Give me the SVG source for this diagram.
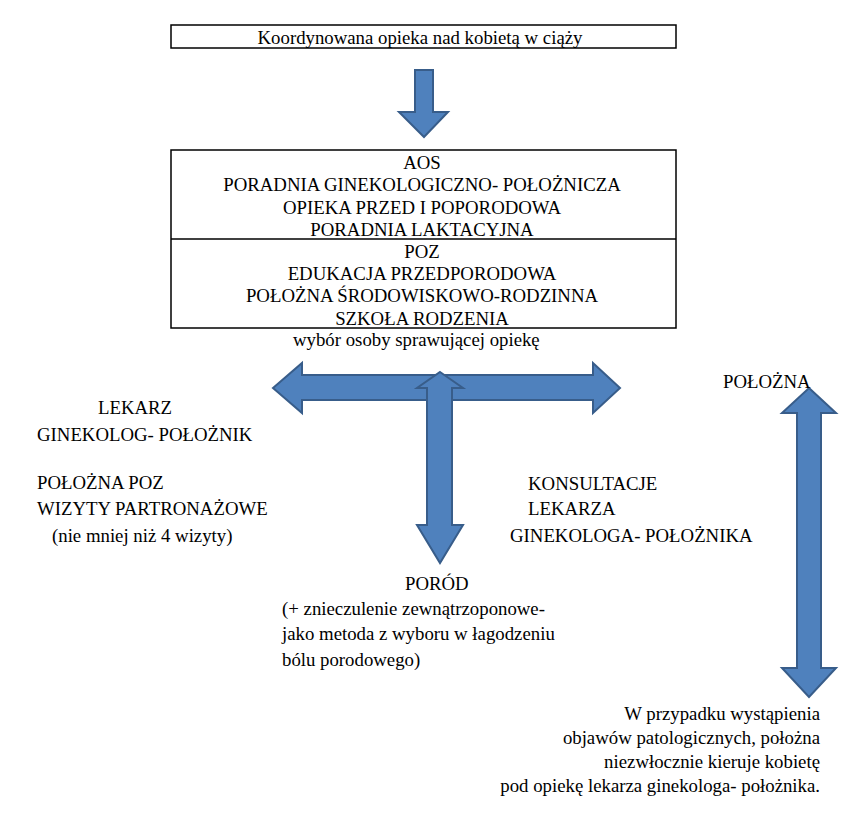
<svg xmlns="http://www.w3.org/2000/svg" width="868" height="816" viewBox="0 0 868 816">
<style>
text{font-family:'Liberation Serif','Times New Roman',serif;font-size:18.8px;fill:#000}
.c{text-anchor:middle}
.r{text-anchor:end}
.box{fill:#fff;stroke:#000;stroke-width:1.5}
.arr{fill:#4F81BD;stroke:#385D8A;stroke-width:2;stroke-linejoin:miter}
</style>
<rect width="868" height="816" fill="#fff"/>
<g id="top">
<rect class="box" x="171" y="25" width="505" height="23"/>
<text class="c" x="420" y="44">Koordynowana opieka nad kobietą w ciąży</text>
</g>
<g id="connectors">
<polygon class="arr" points="415,70 433,70 433,112 448,112 424,137 399,112 415,112"/>
<polygon class="arr" points="273,388 302,363 302,375 593,375 593,363 620,388 593,413 593,400 302,400 302,413"/>
<polygon class="arr" points="440,372 463,388 452,388 452,525 463,525 440,563 417,525 427,525 427,388 417,388"/>
<polygon class="arr" points="809,388 836,413 821,413 821,668 836,668 809,697 782,668 797,668 797,413 782,413"/>
</g>
<g id="services">
<rect class="box" x="171" y="150" width="505" height="178"/>
<line x1="171" y1="239" x2="676" y2="239" stroke="#000" stroke-width="1.5"/>
<text class="c" x="422" y="169">AOS</text>
<text class="c" x="422" y="191">PORADNIA GINEKOLOGICZNO- POŁOŻNICZA</text>
<text class="c" x="422" y="214">OPIEKA PRZED I POPORODOWA</text>
<text class="c" x="422" y="236">PORADNIA LAKTACYJNA</text>
<text class="c" x="422" y="258">POZ</text>
<text class="c" x="422" y="280">EDUKACJA PRZEDPORODOWA</text>
<text class="c" x="422" y="302">POŁOŻNA ŚRODOWISKOWO-RODZINNA</text>
<text class="c" x="422" y="325">SZKOŁA RODZENIA</text>
</g>
<g id="choice">
<text x="293" y="346">wybór osoby sprawującej opiekę</text>
</g>
<g id="left">
<text x="98" y="414">LEKARZ</text>
<text x="37" y="441">GINEKOLOG- POŁOŻNIK</text>
<text x="37" y="489">POŁOŻNA POZ</text>
<text x="37" y="515">WIZYTY PARTRONAŻOWE</text>
<text x="52" y="542">(nie mniej niż 4 wizyty)</text>
</g>
<g id="middle">
<text x="405" y="590">PORÓD</text>
<text x="282" y="615">(+ znieczulenie zewnątrzoponowe-</text>
<text x="282" y="640">jako metoda z wyboru w łagodzeniu</text>
<text x="282" y="666">bólu porodowego)</text>
</g>
<g id="right">
<text x="528" y="490">KONSULTACJE</text>
<text x="528" y="515">LEKARZA</text>
<text x="510" y="542">GINEKOLOGA- POŁOŻNIKA</text>
</g>
<g id="midwife">
<text x="723" y="388">POŁOŻNA</text>
</g>
<g id="note">
<text class="r" x="820" y="720">W przypadku wystąpienia</text>
<text class="r" x="820" y="744">objawów patologicznych, położna</text>
<text class="r" x="820" y="768">niezwłocznie kieruje kobietę</text>
<text class="r" x="820" y="792">pod opiekę lekarza ginekologa- położnika.</text>
</g>
</svg>
